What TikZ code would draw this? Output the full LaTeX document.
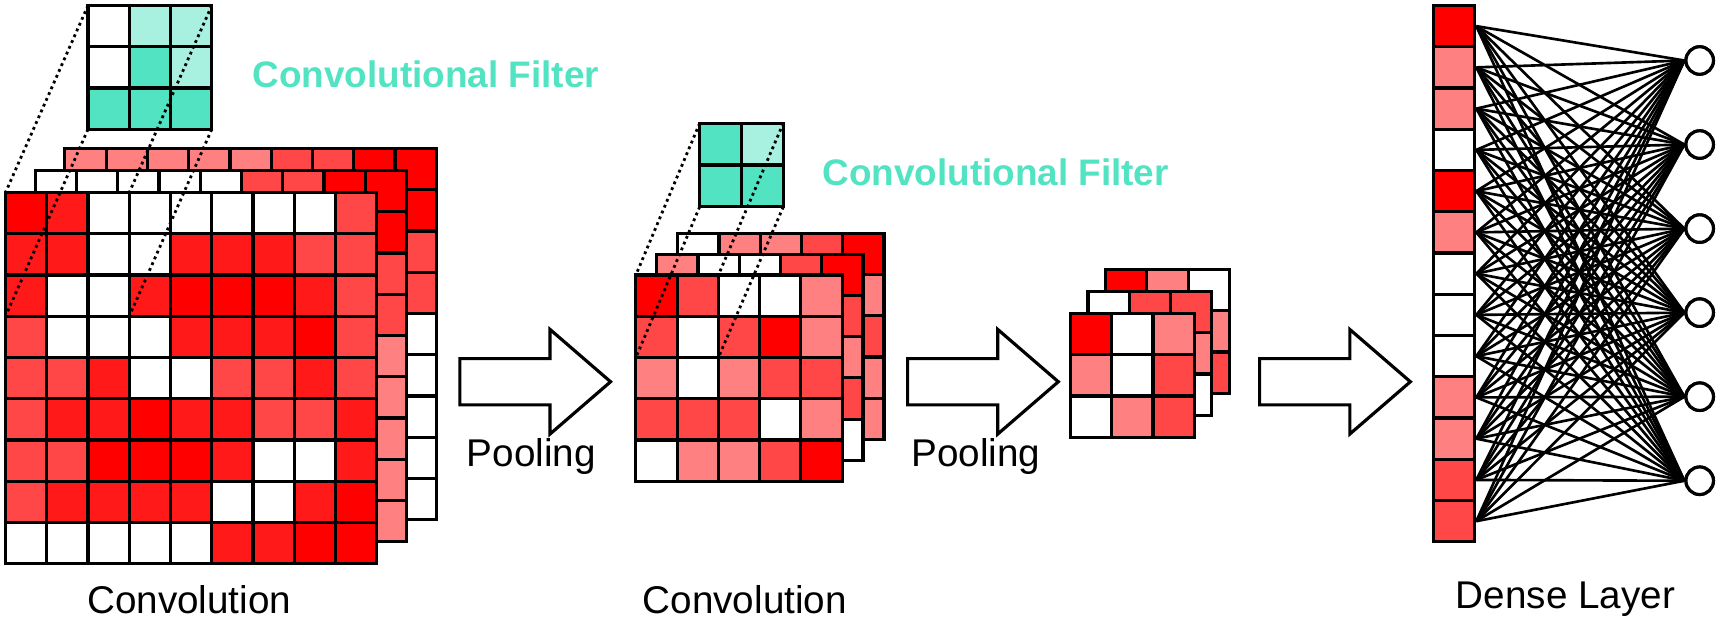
\documentclass[tikz,border=0pt]{standalone}
\usepackage{fontspec}
\setmainfont{Liberation Sans}
\colorlet{rA}{red}
\colorlet{rB}{red!90}
\colorlet{rC}{red!72}
\colorlet{rD}{red!50}
\definecolor{tA}{HTML}{52E3C2}
\definecolor{tB}{HTML}{A8F0E0}
\tikzset{
  cell/.style={draw=black, line width=1.8pt},
  lens/.style={dotted, line width=1.6pt},
  label/.style={font=\fontsize{22}{26}\selectfont},
  filterlabel/.style={font=\fontsize{21}{25}\selectfont\bfseries, text=tA},
  unit/.style={circle, draw, line width=1.8pt, fill=white, minimum size=25*0.022cm, inner sep=0pt},
  slot/.style={rectangle, draw, line width=1.8pt, minimum width=37.5*0.022cm, minimum height=37.5*0.022cm, inner sep=0pt}
}
% full grid: x, y, n, cell size, colours (row by row)
\newcommand{\fullgrid}[5]{%
  \foreach \c [count=\k from 0] in {#5}{
    \pgfmathtruncatemacro{\rr}{\k/#3}
    \pgfmathtruncatemacro{\qq}{\k-\rr*#3}
    \draw[cell, fill=\c] ({#1+\qq*#4},{#2+\rr*#4}) rectangle ++(#4,#4);
  }}
% back layer: only top row and right column show
\newcommand{\edgegrid}[6]{%
  \foreach \c [count=\k from 0] in {#5}
    \draw[cell, fill=\c] ({#1+\k*#4},{#2}) rectangle ++(#4,#4);
  \foreach \c [count=\k from 1] in {#6}
    \draw[cell, fill=\c] ({#1+(#3-1)*#4},{#2+\k*#4}) rectangle ++(#4,#4);
}
\newcommand{\blockarrow}[2]{%
  \draw[line width=1.8pt, fill=white] ({#1},{#2-21}) -- ++(82,0) -- ++(0,-26.5)
    -- ({#1+137},{#2}) -- ({#1+82},{#2+47.5}) -- ++(0,-26.5) -- ({#1},{#2+21}) -- cycle;
}
\begin{document}
\begin{tikzpicture}[x=0.022cm, y=-0.022cm]
  \useasboundingbox (0,0) rectangle (1568,566);

  % first convolution
  \edgegrid{59}{135}{9}{37.5}{rD,rD,rD,rD,rD,rC,rC,rA,rA}{rA,rC,rC,white,white,white,white,white}
  \edgegrid{32}{155}{9}{37.5}{white,white,white,white,white,rC,rC,rA,rA}{rA,rC,rC,rD,rD,rD,rD,rD}
  \fullgrid{5}{175}{9}{37.5}{rA,rB,white,white,white,white,white,white,rC,
    rB,rB,white,white,rB,rB,rB,rC,rC,
    rB,white,white,rB,rA,rA,rA,rB,rC,
    rC,white,white,white,rB,rB,rB,rA,rC,
    rC,rC,rB,white,white,rC,rC,rB,rC,
    rC,rB,rB,rA,rB,rB,rC,rC,rB,
    rC,rC,rA,rA,rA,rB,white,white,rB,
    rC,rB,rB,rB,rB,white,white,rB,rA,
    white,white,white,white,white,rB,rB,rA,rA}
  \fullgrid{80}{5}{3}{37.5}{white,tB,tB,white,tA,tB,tA,tA,tA}
  \coordinate (f1a) at (80,5);      \coordinate (p1a) at (5,175);
  \coordinate (f1b) at (80,117.5);  \coordinate (p1b) at (5,287.5);
  \coordinate (f1c) at (192.5,5);   \coordinate (p1c) at (117.5,175);
  \coordinate (f1d) at (192.5,117.5); \coordinate (p1d) at (117.5,287.5);
  \foreach \e in {a,b,c,d} \draw[lens] (f1\e) -- (p1\e);
  \node[filterlabel] (filt1) at (387,68) {Convolutional Filter};
  \node[label] (conv1) at (172,545) {Convolution};

  % pooling
  \blockarrow{418}{347}
  \node[label] (pool1) at (483,415) {Pooling};

  % second convolution
  \edgegrid{616}{212}{5}{37.5}{white,rD,rD,rC,rA}{rD,rC,rD,rD}
  \edgegrid{597}{231}{5}{37.5}{rD,white,white,rC,rA}{rC,rD,rC,white}
  \fullgrid{578}{250}{5}{37.5}{rA,rC,white,white,rD,
    rC,white,rC,rA,rD,
    rD,white,rD,rC,rC,
    rC,rC,rC,white,rD,
    white,rD,rD,rC,rA}
  \fullgrid{636}{112}{2}{38}{tA,tB,tA,tA}
  \coordinate (f2a) at (636,112);  \coordinate (p2a) at (578,250);
  \coordinate (f2b) at (636,188);  \coordinate (p2b) at (578,325);
  \coordinate (f2c) at (712,112);  \coordinate (p2c) at (653,250);
  \coordinate (f2d) at (712,188);  \coordinate (p2d) at (653,325);
  \foreach \e in {a,b,c,d} \draw[lens] (f2\e) -- (p2\e);
  \node[filterlabel] (filt2) at (905,157) {Convolutional Filter};
  \node[label] (conv2) at (677,545) {Convolution};

  % pooling
  \blockarrow{825}{347}
  \node[label] (pool2) at (887,415) {Pooling};

  % third stack
  \edgegrid{1005}{245}{3}{37.5}{rA,rD,white}{rD,rC}
  \edgegrid{989}{265}{3}{37.5}{white,rC,rC}{rD,white}
  \fullgrid{973}{285}{3}{37.5}{rA,white,rD,rD,white,rC,white,rD,rC}

  % flatten
  \blockarrow{1145}{347}

  % dense layer
  \foreach \c [count=\i] in {rA,rD,rD,white,rA,rD,white,white,white,rD,rD,rC,rC}
    \node[slot, fill=\c] (d\i) at (1321.75,{5+37.5*(\i-0.5)}) {};
  \foreach \j in {1,...,6}
    \node[unit] (o\j) at (1545,{55+76.4*(\j-1)}) {};
  \foreach \i in {1,...,13}
    \foreach \j in {1,...,6}
      \draw[line width=1.5pt] (d\i.east) -- (o\j.west);
  \foreach \j in {1,...,6}
    \node[unit] at (o\j) {};
  \node[label] (dense) at (1423,545) {Dense Layer};
\end{tikzpicture}
\end{document}
